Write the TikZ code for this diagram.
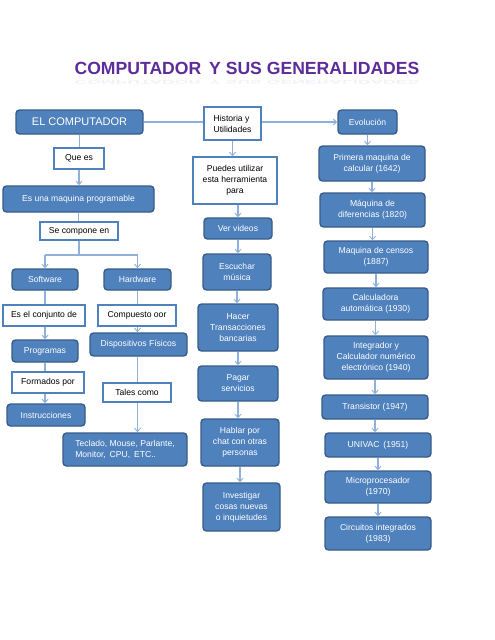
\documentclass[tikz,border=0pt]{standalone}
\usepackage{fontspec}
\setmainfont{Liberation Sans}
\usetikzlibrary{arrows.meta}
\definecolor{boxfill}{HTML}{4F81BD}
\definecolor{boxdraw}{HTML}{385D8A}
\definecolor{linecol}{HTML}{8EB0DA}
\definecolor{titlecol}{HTML}{5E2C9A}
\begin{document}
\begin{tikzpicture}[x=1pt,y=-1pt,
  bluebox/.style={draw=boxdraw, fill=boxfill, line width=1.4pt, rounded corners=3.5pt,
    text=white, align=center, inner sep=1pt, font=\fontsize{8.6}{11}\selectfont},
  whitebox/.style={draw=boxfill, fill=white, line width=1.4pt, align=center, inner sep=1pt,
    text=black, font=\fontsize{8.6}{11}\selectfont},
  conn/.style={draw=linecol, line width=1.1pt},
  arr/.style={conn, -{Straight Barb[length=3.5pt,width=6pt,line width=0.9pt]}},
]
\useasboundingbox (0,0) rectangle (495,640);
\fill[white] (0,0) rectangle (495,640);

% title
\node[text=titlecol, font=\fontsize{17.6}{20}\bfseries\selectfont, inner sep=0pt] (title) at (247,68) {COMPUTADOR\, Y SUS GENERALIDADES};
\node[text=titlecol!20, font=\fontsize{17.6}{20}\bfseries\selectfont, inner sep=0pt, yscale=-0.3, transform shape, opacity=0.35] (titlerefl) at (247,82) {COMPUTADOR\, Y SUS GENERALIDADES};

% left column
\node[bluebox, minimum width=127pt, minimum height=24pt, font=\fontsize{11}{13}\selectfont] (comp) at (79.5,122) {EL COMPUTADOR};
\node[whitebox, minimum width=50pt, minimum height=21pt] (quees) at (79,158.5) {Que es};
\node[bluebox, minimum width=151pt, minimum height=26pt] (maquina) at (78.5,199) {Es una maquina programable};
\node[whitebox, minimum width=78pt, minimum height=18pt] (compone) at (79,231) {Se compone en};
\node[bluebox, minimum width=66pt, minimum height=21pt] (soft) at (45,279.5) {Software};
\node[bluebox, minimum width=67pt, minimum height=21pt] (hard) at (137.5,279.5) {Hardware};
\node[whitebox, minimum width=82pt, minimum height=21pt] (conjunto) at (44,315.5) {Es el conjunto de};
\node[whitebox, minimum width=78pt, minimum height=21pt] (compuesto) at (137,315.5) {Compuesto oor};
\node[bluebox, minimum width=66pt, minimum height=22pt] (prog) at (45,351) {Programas};
\node[bluebox, minimum width=97pt, minimum height=23pt] (disp) at (138.5,344.5) {Dispositivos Físicos};
\node[whitebox, minimum width=72pt, minimum height=21pt] (formados) at (48,382.5) {Formados por};
\node[whitebox, minimum width=68pt, minimum height=19pt] (tales) at (137,392.5) {Tales como};
\node[bluebox, minimum width=78pt, minimum height=22pt] (instr) at (46,415) {Instrucciones};
\node[bluebox, minimum width=124pt, minimum height=33pt, align=left] (teclado) at (125,449.5) {Teclado, Mouse, Parlante,\\Monitor,\, CPU,\, ETC..};

% middle column
\node[whitebox, minimum width=57pt, minimum height=33pt, align=left] (hist) at (232.5,123.5) {Historia y\\Utilidades};
\node[whitebox, minimum width=84pt, minimum height=47pt] (puedes) at (235,180.5) {Puedes utilizar\\esta herramienta\\para};
\node[bluebox, minimum width=68pt, minimum height=21pt] (ver) at (238,228.5) {Ver videos};
\node[bluebox, minimum width=68pt, minimum height=36pt] (escuchar) at (237,272) {Escuchar\\música};
\node[bluebox, minimum width=80pt, minimum height=47pt] (hacer) at (238,327.5) {Hacer\\Transacciones\\bancarias};
\node[bluebox, minimum width=80pt, minimum height=35pt] (pagar) at (238,383.5) {Pagar\\servicios};
\node[bluebox, minimum width=78pt, minimum height=47pt] (hablar) at (240,442.5) {Hablar por\\chat con otras\\personas};
\node[bluebox, minimum width=77pt, minimum height=48pt] (investigar) at (241.5,507) {Investigar\\cosas nuevas\\o inquietudes};

% right column
\node[bluebox, minimum width=59pt, minimum height=24pt] (evol) at (367.5,122) {Evolución};
\node[bluebox, minimum width=106pt, minimum height=35pt] (primera) at (372,163.5) {Primera maquina de\\calcular (1642)};
\node[bluebox, minimum width=105pt, minimum height=34pt] (difer) at (372.5,210) {Máquina de\\diferencias (1820)};
\node[bluebox, minimum width=104pt, minimum height=32pt] (censos) at (376,257) {Maquina de censos\\(1887)};
\node[bluebox, minimum width=105pt, minimum height=32pt] (calc) at (375.5,304) {Calculadora\\automática (1930)};
\node[bluebox, minimum width=104pt, minimum height=43pt] (integ) at (376,357.5) {Integrador y\\Calculador numérico\\electrónico (1940)};
\node[bluebox, minimum width=106pt, minimum height=24pt] (trans) at (375,407) {Transistor (1947)};
\node[bluebox, minimum width=106pt, minimum height=24pt] (univac) at (378,445) {UNIVAC\, (1951)};
\node[bluebox, minimum width=106pt, minimum height=32pt] (micro) at (378,487) {Microprocesador\\(1970)};
\node[bluebox, minimum width=106pt, minimum height=33pt] (circ) at (378,533.5) {Circuitos integrados\\(1983)};

% connectors: top row
\draw[conn] (comp.east) -- (hist.west |- comp.east);
\draw[arr] (hist.east |- evol.west) -- (evol.west);

% left branch
\draw[conn] (comp.south) -- (comp.south |- quees.north);
\draw[arr] (quees.south) -- (quees.south |- maquina.north);
\draw[conn] (maquina.south) -- (maquina.south |- compone.north);
\coordinate (split) at (79,255);
\coordinate (splitL) at (45,255);
\coordinate (splitR) at (137.5,255);
\draw[conn] (compone.south) -- (split);
\draw[conn] (splitL) -- (splitR);
\draw[arr] (splitL) -- (soft.north);
\draw[arr] (splitR) -- (hard.north);
\draw[conn] (soft.south) -- (soft.south |- conjunto.north);
\draw[arr] (soft.south |- conjunto.south) -- (prog.north);
\draw[conn] (prog.south) -- (prog.south |- formados.north);
\draw[arr] (prog.south |- formados.south) -- (prog.south |- instr.north);
\draw[conn] (hard.south) -- (hard.south |- compuesto.north);
\draw[arr] (hard.south |- compuesto.south) -- (hard.south |- disp.north);
\draw[conn] (hard.south |- disp.south) -- (hard.south |- tales.north);
\draw[arr] (hard.south |- tales.south) -- (hard.south |- teclado.north);

% middle branch
\draw[arr] (hist.south) -- (hist.south |- puedes.north);
\draw[arr] (ver.north |- puedes.south) -- (ver.north);
\draw[arr] (ver.south) -- (ver.south |- escuchar.north);
\draw[arr] (escuchar.south) -- (escuchar.south |- hacer.north);
\draw[arr] (hacer.south) -- (hacer.south |- pagar.north);
\draw[arr] (pagar.south) -- (pagar.south |- hablar.north);
\draw[arr] (hablar.south) -- (hablar.south |- investigar.north);

% right branch
\draw[arr] (evol.south) -- (evol.south |- primera.north);
\draw[arr] (primera.south) -- (primera.south |- difer.north);
\draw[arr] (difer.south) -- (difer.south |- censos.north);
\draw[arr] (censos.south) -- (censos.south |- calc.north);
\draw[arr] (calc.south) -- (calc.south |- integ.north);
\draw[arr] (trans.north |- integ.south) -- (trans.north);
\draw[arr] (trans.south) -- (trans.south |- univac.north);
\draw[arr] (univac.south) -- (univac.south |- micro.north);
\draw[arr] (micro.south) -- (micro.south |- circ.north);
\end{tikzpicture}
\end{document}
